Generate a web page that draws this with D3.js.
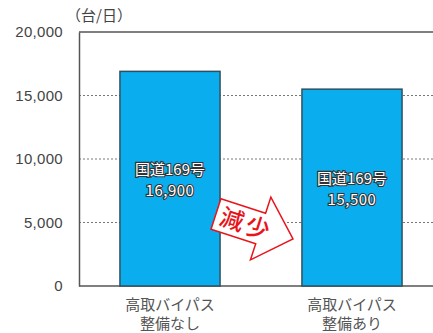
<!DOCTYPE html>
<html>
<head>
<meta charset="utf-8">
<script src="https://d3js.org/d3.v7.min.js"></script>
<style>
  body { margin: 0; background: #fff; }
  svg { display: block; font-family: "Noto Sans CJK JP", sans-serif; }
  .tick text { fill: #444; font-size: 15px; letter-spacing: 0.3px; }
  .grid line { stroke: #555; stroke-dasharray: 2,2; stroke-width: 0.8; }
  .bar { fill: #0aaeef; stroke: #2f5060; stroke-width: 1.5; }
  .inlabel { fill: #fff; stroke: #333; stroke-width: 2.2px; paint-order: stroke; font-size: 15px; text-anchor: middle; }
  .cat { fill: #555; font-size: 15px; text-anchor: middle; }
</style>
</head>
<body>
<script>
  // data
  var categories = ["高取バイパス\n整備なし", "高取バイパス\n整備あり"];
  var roadNames = ["国道169号", "国道169号"];
  var traffic = [16900, 15500];
  var yTicks = [0, 5000, 10000, 15000, 20000];
  var unitLabel = "（台/日）";
  var changeLabel = "減少";

  var W = 433, H = 333;
  var margin = { top: 32, right: -10, bottom: 47, left: 79 };
  var width = W - margin.left - margin.right;
  var height = H - margin.top - margin.bottom;

  var svg = d3.select("body").append("svg")
      .attr("width", W)
      .attr("height", H);

  var g = svg.append("g")
      .attr("transform", "translate(" + margin.left + "," + margin.top + ")");

  var x = d3.scaleBand()
      .domain(categories)
      .range([0, width])
      .paddingInner(0.45)
      .paddingOuter(0.225);

  var y = d3.scaleLinear()
      .domain([0, 20000])
      .range([height, 0]);

  // grid
  g.append("g").attr("class", "grid")
    .selectAll("line")
    .data(yTicks.filter(function(d) { return d > 0 && d < 20000; }))
    .enter().append("line")
      .attr("x1", 0).attr("x2", width)
      .attr("y1", function(d) { return y(d); })
      .attr("y2", function(d) { return y(d); });

  // frame
  g.append("line").attr("x1", 0).attr("x2", width).attr("y1", 0).attr("y2", 0)
    .attr("stroke", "#555").attr("stroke-width", 1.5);
  g.append("line").attr("x1", 0).attr("x2", width).attr("y1", height).attr("y2", height)
    .attr("stroke", "#555").attr("stroke-width", 1.5);

  // y axis
  var yAxis = g.append("g")
      .call(d3.axisLeft(y).tickValues(yTicks).tickSize(0).tickPadding(16)
        .tickFormat(d3.format(",")));
  yAxis.select(".domain").attr("stroke", "#555").attr("stroke-width", 1.5);

  // bars
  g.selectAll(".bar")
      .data(traffic)
    .enter().append("rect")
      .attr("class", "bar")
      .attr("x", function(d, i) { return x(categories[i]); })
      .attr("y", function(d) { return y(d); })
      .attr("width", x.bandwidth())
      .attr("height", function(d) { return height - y(d); });

  // labels inside bars
  traffic.forEach(function(d, i) {
    var cx = x(categories[i]) + x.bandwidth() / 2;
    var cy = (y(d) + height) / 2;
    g.append("text").attr("class", "inlabel")
      .attr("x", cx).attr("y", cy - 4)
      .text(roadNames[i]);
    g.append("text").attr("class", "inlabel")
      .attr("x", cx).attr("y", cy + 17)
      .attr("letter-spacing", "0.5px")
      .text(d3.format(",")(d));
  });

  // category labels
  categories.forEach(function(c) {
    var t = g.append("text").attr("class", "cat")
      .attr("x", x(c) + x.bandwidth() / 2)
      .attr("y", height + 24);
    c.split("\n").forEach(function(line, k) {
      t.append("tspan")
        .attr("x", x(c) + x.bandwidth() / 2)
        .attr("dy", k === 0 ? 0 : 19)
        .text(line);
    });
  });

  // unit
  svg.append("text")
    .attr("x", 66).attr("y", 21)
    .attr("fill", "#444")
    .attr("font-size", "15px")
    .text(unitLabel);

  // arrow annotation between the bars
  var ax = (x(categories[0]) + x.bandwidth() + x(categories[1])) / 2 - 7;
  var ay = y(4700);
  var arrow = g.append("g")
      .attr("transform", "translate(" + ax + "," + ay + ") rotate(18)");
  arrow.append("path")
      .attr("d", "M-40,-16 L7,-16 L7,-33 L41,0 L7,33 L7,16 L-40,16 Z")
      .attr("fill", "#fff")
      .attr("stroke", "#e8141b")
      .attr("stroke-width", 1.5)
      .attr("stroke-linejoin", "miter");
  arrow.append("text")
      .attr("x", -8).attr("y", 9)
      .attr("text-anchor", "middle")
      .attr("fill", "#e8141b")
      .attr("font-size", "24px")
      .attr("font-weight", "500")
      .attr("letter-spacing", "3px")
      .text(changeLabel);
</script>
</body>
</html>
